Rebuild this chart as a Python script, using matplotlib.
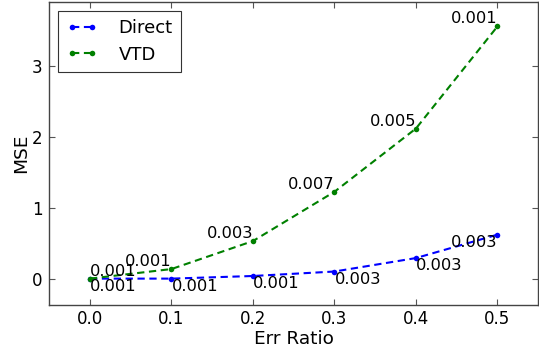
import matplotlib
matplotlib.use("Agg")
import matplotlib.pyplot as plt

err_ratio = [0.0, 0.1, 0.2, 0.3, 0.4, 0.5]
mse_direct = [0.0, 0.0, 0.037, 0.10, 0.29, 0.62]
mse_vtd = [0.0, 0.135, 0.53, 1.225, 2.117, 3.557]
std_direct = ["0.001", "0.001", "0.001", "0.003", "0.003", "0.003"]
std_vtd = ["0.001", "0.001", "0.003", "0.007", "0.005", "0.001"]

fig = plt.figure(figsize=(5.39, 3.5), dpi=100)
ax = fig.add_axes([0.0913, 0.129, 0.9087 - 0.0015, 0.865])

dash = (0, (3.5, 2.2))
ax.plot(err_ratio, mse_direct, color="b", linestyle=dash, lw=1.5,
        marker="o", markersize=4, markeredgewidth=0, label="Direct")
ax.plot(err_ratio, mse_vtd, color="g", linestyle=dash, lw=1.5,
        marker="o", markersize=4, markeredgewidth=0, label="VTD")

for i, (x, y, s) in enumerate(zip(err_ratio, mse_direct, std_direct)):
    ha = "right" if i == len(err_ratio) - 1 else "left"
    ax.text(x, y, s, ha=ha, va="top", fontsize=11.7)
for i, (x, y, s) in enumerate(zip(err_ratio, mse_vtd, std_vtd)):
    ha = "left" if i == 0 else "right"
    ax.text(x, y, s, ha=ha, va="bottom", fontsize=11.7)

ax.set_xlim(-0.05, 0.55)
ax.set_ylim(-0.37, 3.9)
ax.set_xticks([0.0, 0.1, 0.2, 0.3, 0.4, 0.5])
ax.set_yticks([0, 1, 2, 3])
ax.tick_params(direction="in", top=True, right=True, length=4, width=0.8,
               labelsize=12, color="#555555")
ax.tick_params(axis="x", pad=4)
ax.tick_params(axis="y", pad=5)
for sp in ax.spines.values():
    sp.set_color("#444444")
    sp.set_linewidth(1.0)

ax.set_xlabel("Err Ratio", fontsize=13.3, labelpad=1)
ax.set_ylabel("MSE", fontsize=13.3, labelpad=1)

leg = ax.legend(loc="upper left", numpoints=2, handlelength=1.7,
                fontsize=13, fancybox=False, framealpha=1,
                borderaxespad=0.5, handletextpad=1.2, labelspacing=0.47,
                borderpad=0.45)
leg.get_frame().set_edgecolor("#333333")
leg.get_frame().set_linewidth(0.8)

fig.savefig("out.png", dpi=100)
